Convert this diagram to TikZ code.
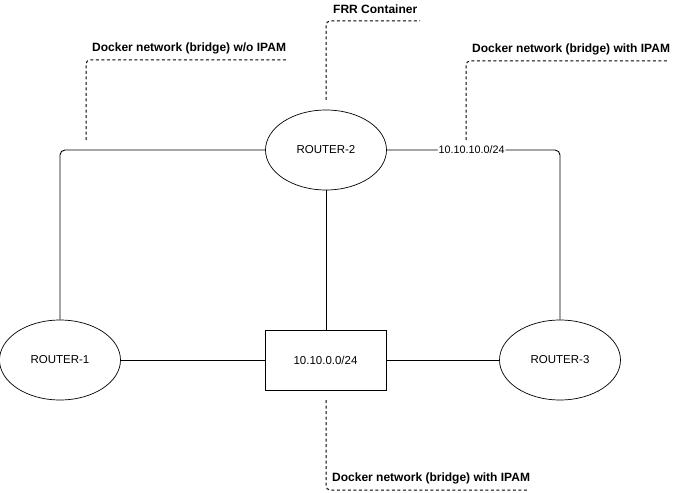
\documentclass[tikz,border=0pt]{standalone}
\usepackage{fontspec}
\setmainfont{Liberation Sans}
\usetikzlibrary{shapes.geometric}
\tikzset{
  router/.style={draw, ellipse, line width=0.7pt, minimum width=121pt, minimum height=80pt, inner sep=0pt, font=\fontsize{11.5}{13}\selectfont},
  netbox/.style={draw, rectangle, line width=0.8pt, minimum width=121pt, minimum height=60pt, inner sep=0pt, font=\fontsize{11.5}{13}\selectfont},
  link/.style={line width=0.9pt, rounded corners=5pt},
  callout/.style={line width=1pt, dash pattern=on 3pt off 2.5pt, rounded corners=4pt},
  calltext/.style={font=\bfseries\fontsize{12}{14}\selectfont, inner sep=0pt, anchor=west},
  edgelabel/.style={fill=white, inner sep=1pt, font=\fontsize{10.8}{12}\selectfont}
}
\begin{document}
\begin{tikzpicture}[x=1pt,y=-1pt]
\useasboundingbox (0,0) rectangle (676,492);
\node[router] (r2) at (326,150) {ROUTER-2};
\node[router] (r1) at (60,360) {ROUTER-1};
\node[router] (r3) at (560,360) {ROUTER-3};
\node[netbox] (net) at (325.5,360) {10.10.0.0/24};

\draw[link] (r2.west) -| (r1.north);
\draw[link] (r2.east) -| node[edgelabel, pos=0.245] {10.10.10.0/24} (r3.north);
\draw[link] (r2.south) -- (r2.south |- net.north);
\draw[link] (r1.east) -- (net.west);
\draw[link] (net.east) -- (r3.west);

% callouts
\coordinate (c1a) at (86,140);
\coordinate (c1b) at (286,60);
\draw[callout] (c1a) |- (c1b);
\node[calltext] (t1) at (92,48) {Docker network (bridge) w/o IPAM};

\coordinate (c2a) at (326,100);
\coordinate (c2b) at (420,21);
\draw[callout] (c2a) |- (c2b);
\node[calltext] (t2) at (333,9) {FRR Container};

\coordinate (c3a) at (466,140);
\coordinate (c3b) at (667,61);
\draw[callout] (c3a) |- (c3b);
\node[calltext] (t3) at (472,49) {Docker network (bridge) with IPAM};

\coordinate (c4a) at (326,400);
\coordinate (c4b) at (527,490);
\draw[callout] (c4a) |- (c4b);
\node[calltext] (t4) at (332,478) {Docker network (bridge) with IPAM};
\end{tikzpicture}
\end{document}
